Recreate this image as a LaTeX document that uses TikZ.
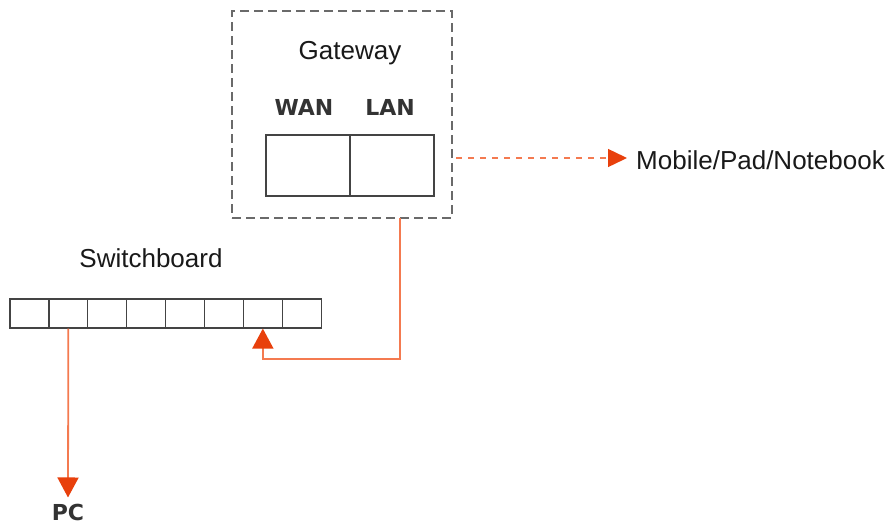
\documentclass[tikz,border=0pt]{standalone}
\usepackage{fontspec}
\setmainfont{Liberation Sans}
\newfontfamily\boldlab{DejaVu Sans}
\usetikzlibrary{arrows.meta}
\definecolor{wire}{HTML}{F47A50}
\definecolor{tipc}{HTML}{E8400C}
\definecolor{boxgray}{HTML}{6A6A6A}
\definecolor{portgray}{HTML}{444444}
\definecolor{labgray}{HTML}{333333}
\tikzset{
  port/.style={draw=portgray, line width=1.2pt, minimum width=84pt, minimum height=61pt, inner sep=0pt},
  cell/.style={draw=portgray, line width=1.2pt, minimum width=38.9pt, minimum height=29pt, inner sep=0pt},
  title/.style={font=\fontsize{26}{30}\selectfont, text=black!90, inner sep=0pt},
  blab/.style={font=\boldlab\bfseries\fontsize{22}{26}\selectfont, text=labgray, inner sep=0pt},
  wireline/.style={draw=wire, line width=1.8pt},
  tip/.style={-{Triangle[length=20pt,width=21pt,color=tipc]}},
}
\begin{document}
\begin{tikzpicture}[x=1pt,y=-1pt]
\useasboundingbox (0,0) rectangle (887,525);
% gateway
\node[draw=boxgray, dash pattern=on 9pt off 5pt, line width=1.5pt, minimum width=220pt, minimum height=207pt, inner sep=0pt] (gw) at (342,114.5) {};
\node[title] (gwt) at (350,53) {Gateway};
\node[blab] (wan) at (304,107) {WAN};
\node[blab] (lan) at (390,107) {LAN};
\node[port] (wanp) at (308,165.5) {};
\node[port] (lanp) at (392,165.5) {};
% mobile
\node[title, anchor=west] (mob) at (636,160) {Mobile/Pad/Notebook};
\coordinate (gwr) at (456,158);
\draw[wireline, line width=1.4pt, dash pattern=on 6pt off 6pt, -{Triangle[length=19pt,width=18pt,color=tipc]}] (gwr) -- (627,158);
% switchboard
\node[title] (swt) at (151,258) {Switchboard};
\foreach \i in {1,...,8} {
  \node[cell] (s\i) at ({10+38.9*(\i-0.5)},313.5) {};
}
% LAN to switch
\coordinate (lanout) at (400,218);
\draw[wireline, tip] (lanout) |- ([yshift=-30pt]s7.south) -- (s7.south);
% PC
\node[blab] (pc) at (68,512) {PC};
\draw[wireline, tip] (s2.south) -- ([yshift=6pt]pc.north);
\end{tikzpicture}
\end{document}
